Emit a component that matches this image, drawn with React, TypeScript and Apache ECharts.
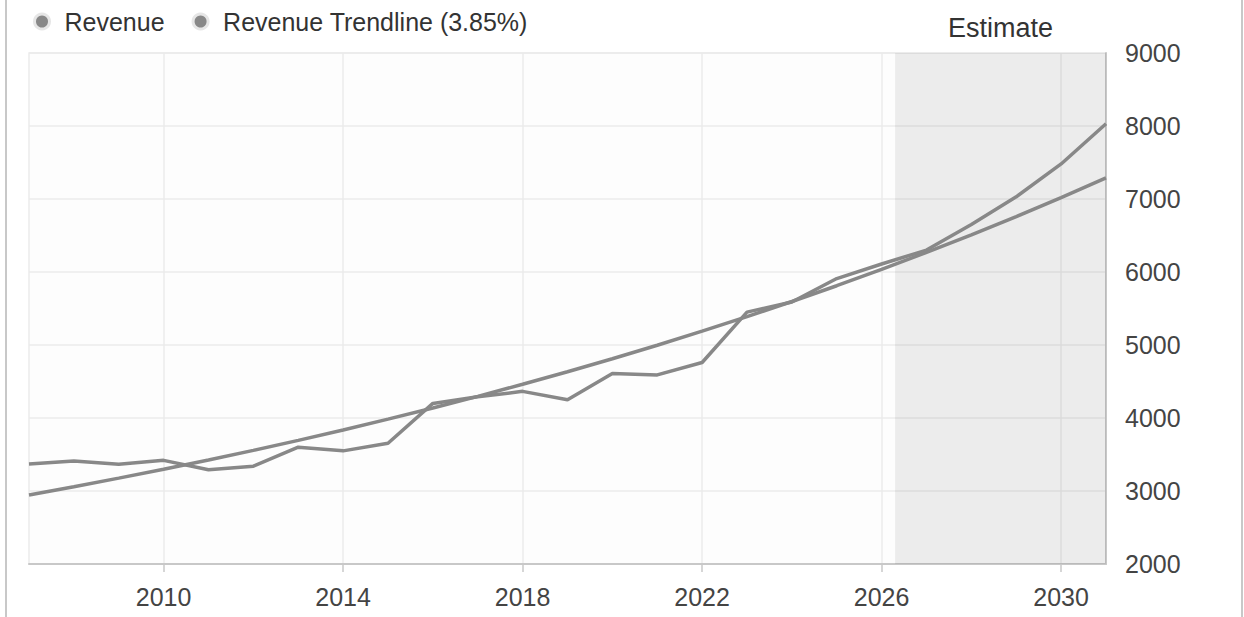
import React, { useEffect, useRef } from "react";
import * as echarts from "echarts";

const years = [2007, 2008, 2009, 2010, 2011, 2012, 2013, 2014, 2015, 2016, 2017, 2018, 2019, 2020, 2021, 2022, 2023, 2024, 2025, 2026, 2027, 2028, 2029, 2030, 2031];
const revenue = [3370, 3410, 3365, 3420, 3290, 3340, 3600, 3550, 3655, 4200, 4290, 4365, 4250, 4610, 4590, 4760, 5450, 5590, 5910, 6110, 6300, 6650, 7030, 7480, 8030];
const trend = [2945, 3058, 3176, 3298, 3425, 3557, 3694, 3836, 3984, 4137, 4296, 4462, 4633, 4812, 4997, 5189, 5389, 5596, 5812, 6035, 6268, 6509, 6759, 7020, 7290];
const xTicks = [2010, 2014, 2018, 2022, 2026, 2030];
const estimateStart = 2026.3;
const estimateEnd = 2031;
const seriesNames = ["Revenue", "Revenue Trendline (3.85%)"];

const FONT = "'Liberation Sans', Arial, Helvetica, sans-serif";

export default function App() {
  const ref = useRef<HTMLDivElement>(null);
  useEffect(() => {
    if (!ref.current) return;
    const chart = echarts.init(ref.current, null, { renderer: "svg" });
    const option = {
      animation: false,
      backgroundColor: "#ffffff",
      textStyle: { fontFamily: FONT },
      legend: {
        left: 28,
        top: 4,
        itemWidth: 15,
        itemHeight: 15,
        itemGap: 27,
        icon: "circle",
        data: seriesNames,
        textStyle: { fontSize: 25, color: "#333", fontFamily: FONT, padding: [0, 0, 0, 10] },
        itemStyle: { color: "#888", borderColor: "#e6e6e6", borderWidth: 3 },
      },
      grid: {
        left: 29,
        right: 138,
        top: 53,
        bottom: 53,
        show: true,
        backgroundColor: "#fdfdfd",
        borderColor: "#ebebeb",
        borderWidth: 1.5,
      },
      xAxis: {
        type: "value",
        min: 2007,
        max: 2031,
        axisLine: { show: true, lineStyle: { color: "#c8c8c8", width: 2 } },
        axisTick: { show: true, length: 8, customValues: xTicks, lineStyle: { color: "#c8c8c8", width: 1.5 } },
        axisLabel: {
          customValues: xTicks,
          fontSize: 25,
          color: "#444",
          fontFamily: FONT,
          margin: 20,
          formatter: (v: number) => String(v),
        },
        splitLine: { show: true, lineStyle: { color: "#ebebeb", width: 1.5 } },
      },
      yAxis: {
        type: "value",
        position: "right",
        min: 2000,
        max: 9000,
        interval: 1000,
        axisLine: { show: true, lineStyle: { color: "#c8c8c8", width: 2 } },
        axisTick: { show: false },
        axisLabel: {
          fontSize: 25,
          color: "#444",
          fontFamily: FONT,
          margin: 19,
          formatter: (v: number) => String(v),
        },
        splitLine: { show: true, lineStyle: { color: "#ebebeb", width: 1.5 } },
      },
      graphic: [
        { type: "line", shape: { x1: 6, y1: 0, x2: 6, y2: 617 }, style: { stroke: "#c8c8c8", lineWidth: 2 } },
        { type: "line", shape: { x1: 1242, y1: 0, x2: 1242, y2: 617 }, style: { stroke: "#c8c8c8", lineWidth: 2 } },
      ],
      series: [
        {
          name: seriesNames[0],
          type: "line",
          data: years.map((y, i) => [y, revenue[i]]),
          showSymbol: false,
          lineStyle: { color: "#888", width: 3.5 },
          itemStyle: { color: "#888" },
          z: 3,
          markArea: {
            silent: true,
            itemStyle: { color: "rgba(0,0,0,0.065)" },
            label: {
              show: true,
              position: "top",
              distance: 12,
              fontSize: 27,
              color: "#333",
              fontFamily: FONT,
            },
            data: [[{ name: "Estimate", xAxis: estimateStart }, { xAxis: estimateEnd }]],
          },
        },
        {
          name: seriesNames[1],
          type: "line",
          data: years.map((y, i) => [y, trend[i]]),
          showSymbol: false,
          lineStyle: { color: "#888", width: 3.5 },
          itemStyle: { color: "#888" },
          z: 3,
        },
      ],
    };
    chart.setOption(option as any);
    return () => chart.dispose();
  }, []);
  return (
    <div
      ref={ref}
      style={{ position: "fixed", left: 0, top: 0, width: 1244, height: 617 }}
    />
  );
}
